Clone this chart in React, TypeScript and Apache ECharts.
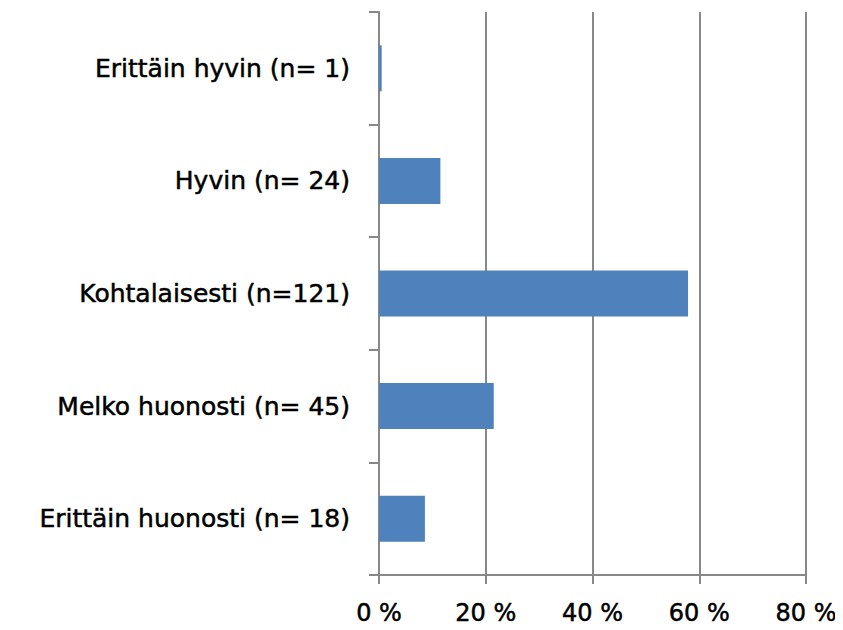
import React, { useEffect, useRef } from "react";
import * as echarts from "echarts";

const categories = [
  "Erittäin hyvin (n= 1)",
  "Hyvin (n= 24)",
  "Kohtalaisesti (n=121)",
  "Melko huonosti (n= 45)",
  "Erittäin huonosti (n= 18)",
];
const values = [0.5, 11.5, 57.9, 21.5, 8.6];
const xTicks = [0, 20, 40, 60, 80];

export default function App() {
  const ref = useRef<HTMLDivElement>(null);
  useEffect(() => {
    const chart = echarts.init(ref.current!, null, { renderer: "svg" });
    const font = "DejaVu Sans, Verdana, sans-serif";
    chart.setOption({
      animation: false,
      backgroundColor: "#ffffff",
      grid: { left: 379, right: 37, top: 12, bottom: 55, containLabel: false },
      xAxis: {
        type: "value",
        min: xTicks[0],
        max: xTicks[xTicks.length - 1],
        interval: 20,
        axisLine: { show: true, lineStyle: { color: "#888888", width: 2 } },
        axisTick: { show: true, length: 9, lineStyle: { color: "#888888", width: 2 } },
        splitLine: { show: true, lineStyle: { color: "#888888", width: 2 } },
        axisLabel: {
          formatter: (v: number) => `${v} %`,
          color: "#000000",
          fontSize: 24,
          fontFamily: font,
          textBorderColor: "#000000",
          textBorderWidth: 0.5,
          margin: 26,
        },
      },
      yAxis: {
        type: "category",
        data: categories,
        inverse: true,
        axisLine: { show: true, lineStyle: { color: "#888888", width: 2 } },
        axisTick: { show: true, length: 10, lineStyle: { color: "#888888", width: 2 } },
        axisLabel: {
          color: "#000000",
          fontSize: 25,
          fontFamily: font,
          textBorderColor: "#000000",
          textBorderWidth: 0.5,
          padding: [6, 0, 0, 0],
          margin: 29,
        },
      },
      series: [
        {
          type: "bar",
          data: values,
          barWidth: 46,
          itemStyle: { color: "#4F81BD" },
        },
      ],
    });
    return () => chart.dispose();
  }, []);
  return <div ref={ref} style={{ width: 843, height: 630, margin: -8 }} />;
}
